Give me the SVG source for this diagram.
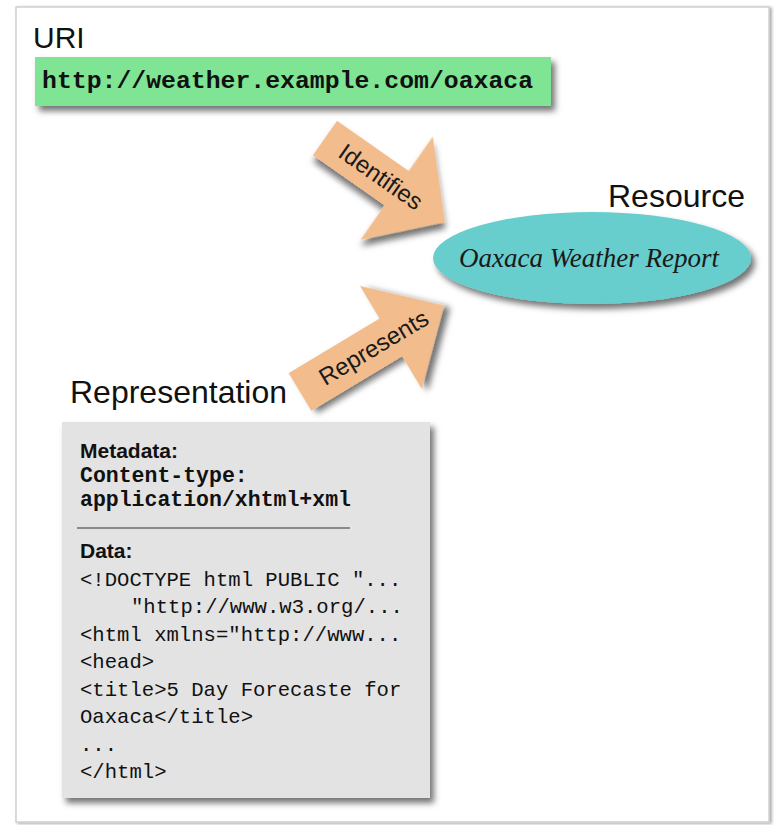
<svg xmlns="http://www.w3.org/2000/svg" width="775" height="825" viewBox="0 0 775 825">
<style>
.lbl{font-family:"Liberation Sans",Arial,sans-serif;fill:#111;}
.mono{font-family:"Liberation Mono","Courier New",monospace;fill:#111;}
.arrow{fill:#F2BC8C;filter:url(#sh);}
.alab{font-family:"Liberation Sans",Arial,sans-serif;font-size:24px;fill:#1a1a1a;text-anchor:middle;}
</style>
<defs>
<filter id="sh" x="-20%" y="-20%" width="150%" height="150%">
<feDropShadow dx="4" dy="5" stdDeviation="3" flood-color="#000" flood-opacity="0.55"/>
</filter>
<filter id="fsh" x="-5%" y="-5%" width="110%" height="110%">
<feDropShadow dx="2" dy="1" stdDeviation="1.5" flood-color="#000" flood-opacity="0.35"/>
</filter>
</defs>
<rect x="16" y="7" width="753" height="815" fill="#fff" stroke="#cfcfcf" stroke-width="1.5" filter="url(#fsh)"/>

<g id="uri">
<text class="lbl" x="33" y="48" font-size="30">URI</text>
<rect x="35" y="57" width="516" height="49" fill="#7FE494" filter="url(#sh)"/>
<text class="mono" x="42" y="88" font-size="24.8" font-weight="bold" fill="#1a1a1a">http://weather.example.com/oaxaca</text>
</g>

<g id="resource">
<text class="lbl" x="608" y="207" font-size="32">Resource</text>
<ellipse cx="592" cy="258" rx="159" ry="46" fill="#68CDCD" filter="url(#sh)"/>
<text x="589" y="267" font-family="'Liberation Serif','Times New Roman',serif" font-style="italic" font-size="27" fill="#1a1a1a" text-anchor="middle">Oaxaca Weather Report</text>
</g>

<g id="representation">
<text class="lbl" x="70" y="403" font-size="32">Representation</text>
<rect x="62" y="422" width="368" height="376" fill="#E3E3E3" filter="url(#sh)"/>
<text class="lbl" x="80" y="458" font-size="21" font-weight="bold">Metadata:</text>
<text class="mono" x="80" y="482" font-size="21.5" font-weight="bold">Content-type:</text>
<text class="mono" x="80" y="506" font-size="21.5" font-weight="bold">application/xhtml+xml</text>
<line x1="77" y1="528" x2="350" y2="528" stroke="#333" stroke-width="1.2"/>
<text class="lbl" x="80" y="558" font-size="21" font-weight="bold">Data:</text>
<g class="mono" font-size="20.6">
<text x="80" y="586">&lt;!DOCTYPE html PUBLIC "...</text>
<text x="131" y="613">"http://www.w3.org/...</text>
<text x="80" y="641">&lt;html xmlns="http://www...</text>
<text x="80" y="668">&lt;head&gt;</text>
<text x="80" y="696">&lt;title&gt;5 Day Forecaste for</text>
<text x="80" y="723">Oaxaca&lt;/title&gt;</text>
<text x="80" y="751">...</text>
<text x="80" y="778">&lt;/html&gt;</text>
</g>
</g>

<g id="connectors">
<g id="identifies" transform="translate(325,138) rotate(35)">
<polygon class="arrow" points="0,-21 87.5,-21 87.5,-63 146.5,0 87.5,63 87.5,21 0,21"/>
<text class="alab" x="68" y="8">Identifies</text>
</g>
<g id="represents" transform="translate(300,392) rotate(-31)">
<polygon class="arrow" points="0,-22 106,-22 106,-60 168,0 106,60 106,22 0,22"/>
<text class="alab" x="86" y="8">Represents</text>
</g>
</g>
</svg>
